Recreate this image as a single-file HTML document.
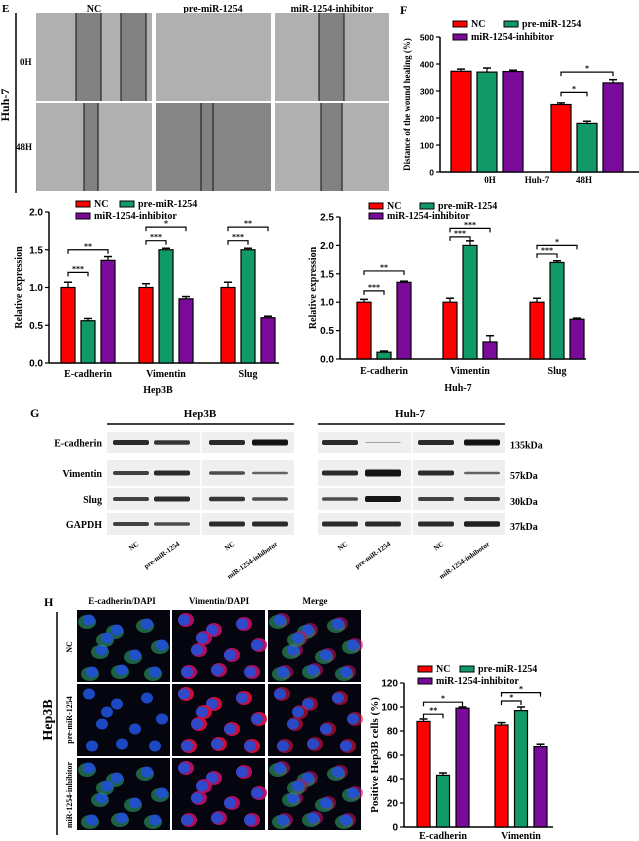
<!DOCTYPE html>
<html><head><meta charset="utf-8">
<style>
body{margin:0;background:#fff}
svg{display:block;font-family:"Liberation Serif",serif;font-weight:bold}
</style></head>
<body>
<svg id="fig" width="639" height="841" viewBox="0 0 639 841" xmlns="http://www.w3.org/2000/svg">
<rect width="639" height="841" fill="#fff"/>
<g id="static"></g>
</svg>
<script>
// ---------- chart data ----------
const groups = ["NC","pre-miR-1254","miR-1254-inhibitor"];
const colors = ["#ff0000","#119a68","#7a0a9a"];
const fCats = ["0H","48H"];
const fNC = [373,250];
const fPre = [370,180];
const fInh = [372,330];
const fErr = [8,15,5,6,8,12];
const fTicks = [0,100,200,300,400,500];

const hepCats = ["E-cadherin","Vimentin","Slug"];
const hepNC = [1.0,1.0,1.0];
const hepPre = [0.56,1.5,1.5];
const hepInh = [1.36,0.85,0.6];
const hepTicks = ["0.0","0.5","1.0","1.5","2.0"];

const huhCats = ["E-cadherin","Vimentin","Slug"];
const huhNC = [1.0,1.0,1.0];
const huhPre = [0.12,2.0,1.7];
const huhInh = [1.35,0.3,0.7];
const huhTicks = ["0.0","0.5","1.0","1.5","2.0","2.5"];

const hCats = ["E-cadherin","Vimentin"];
const hNC = [88,85];
const hPre = [43,97];
const hInh = [99,67];
const hTicks = [0,20,40,60,80,100,120];

const NS="http://www.w3.org/2000/svg";
const svg=document.getElementById('fig');
function el(tag,attrs,parent,text){const e=document.createElementNS(NS,tag);for(const k in attrs)e.setAttribute(k,attrs[k]);if(text!==undefined)e.textContent=text;(parent||svg).appendChild(e);return e;}

function txt(x,y,s,size,opts){opts=opts||{};const t=el('text',{x:x,y:y,'font-size':size,'text-anchor':opts.anchor||'start',fill:'#000'},opts.parent,s);if(opts.rot!==undefined)t.setAttribute('transform','rotate('+opts.rot+' '+x+' '+y+')');return t;}

function barChart(cfg){
  const g=el('g',{});
  
  
  const ymax=cfg.ymax;
  const y=v=>cfg.y0-(v/ymax)*(cfg.y0-cfg.ytop);
  el('line',{x1:cfg.ax,y1:cfg.ytop,x2:cfg.ax,y2:cfg.y0,stroke:'#000','stroke-width':1.5},g);
  el('line',{x1:cfg.ax,y1:cfg.y0,x2:cfg.axEnd,y2:cfg.y0,stroke:'#000','stroke-width':1.5},g);
  cfg.ticks.forEach(tk=>{const v=parseFloat(tk);const yy=y(v);
    el('line',{x1:cfg.ax-4,y1:yy,x2:cfg.ax,y2:yy,stroke:'#000','stroke-width':1.2},g);
    const t=txt(cfg.ax-6,yy+3.5,String(tk),cfg.tickSize||10,{anchor:'end',parent:g});
    
    t.setAttribute('font-family','Liberation Sans, sans-serif');
  });
  const series=[cfg.s0,cfg.s1,cfg.s2];
  cfg.cats.forEach((c,i)=>{
    series.forEach((s,j)=>{
      const x=cfg.barX[i]+j*cfg.step;
      const r=el('rect',{x:x,y:y(s[i]),width:cfg.bw,height:cfg.y0-y(s[i]),fill:colors[j],stroke:'#000','stroke-width':1.2},g);
      
      
      const e=(cfg.err?cfg.err[i*3+j]:0.05*ymax/2);
      const ey=y(s[i]+e);
      el('line',{x1:x+cfg.bw/2,y1:y(s[i]),x2:x+cfg.bw/2,y2:ey,stroke:'#000','stroke-width':1.2},g);
      el('line',{x1:x+cfg.bw/2-4,y1:ey,x2:x+cfg.bw/2+4,y2:ey,stroke:'#000','stroke-width':1.5},g);
    });
    if(cfg.catLabels!==false){
      const t=txt(cfg.barX[i]+cfg.step+cfg.bw/2,cfg.labelY,c,cfg.catSize||10,{anchor:'middle',parent:g});
      
    }
  });
  const L=cfg.leg;
  const items=[[L.x,L.y1,0],[L.x2,L.y1,1],[L.x,L.y2,2]];
  items.forEach(([lx,ly,j])=>{
    const r=el('rect',{x:lx,y:ly-6,width:14,height:6,fill:colors[j],stroke:'#000','stroke-width':1},g);
    
    const t=txt(lx+18,ly,groups[j],cfg.legSize||10,{parent:g});
    
  });
  const yt=txt(cfg.ytX,(cfg.ytop+cfg.y0)/2,cfg.ytitle,cfg.ytSize||10,{anchor:'middle',rot:-90,parent:g});
  
  (cfg.brackets||[]).forEach(b=>{
    const x1=cfg.barX[b.c]+b.a*cfg.step+cfg.bw/2, x2=cfg.barX[b.c]+b.b*cfg.step+cfg.bw/2;
    const yy=y(b.v);
    el('polyline',{points:`${x1},${yy+4} ${x1},${yy} ${x2},${yy} ${x2},${yy+4}`,fill:'none',stroke:'#000','stroke-width':1.2},g);
    txt((x1+x2)/2,yy-1,b.s,8,{anchor:'middle',parent:g});
  });
  return {g,y};
}

barChart({name:'wound-healing-chart',cats:fCats,s0:fNC,s1:fPre,s2:fInh,err:fErr,ymax:500,ax:440,axEnd:639,ytop:37,y0:172,
  ticks:fTicks,barX:[451,551],step:26,bw:20,catLabels:false,labelY:182,
  leg:{x:453,x2:504,y1:27,y2:40},ytX:410,ytitle:'Distance of the wound healing (%)',ytSize:9,tickSize:8.5,
  brackets:[{c:1,a:0,b:1,v:295,s:'*'},{c:1,a:0,b:2,v:370,s:'*'}]});
[['0H',490],['Huh-7',537],['48H',584]].forEach(([s,x])=>{const t=txt(x,183,s,9,{anchor:'middle'});});

barChart({name:'hep3b-expression-chart',cats:hepCats,s0:hepNC,s1:hepPre,s2:hepInh,ymax:2,ax:49,axEnd:279,ytop:212,y0:363,
  ticks:hepTicks,barX:[61,139,221],step:20,bw:14,labelY:377,err:[0.07,0.03,0.05,0.05,0.02,0.03,0.07,0.02,0.02],
  leg:{x:76,x2:120,y1:207,y2:219},ytX:22,ytitle:'Relative expression',
  brackets:[{c:0,a:0,b:1,v:1.2,s:'***'},{c:0,a:0,b:2,v:1.5,s:'**'},{c:1,a:0,b:1,v:1.62,s:'***'},{c:1,a:0,b:2,v:1.8,s:'*'},{c:2,a:0,b:1,v:1.62,s:'***'},{c:2,a:0,b:2,v:1.8,s:'**'}]});
txt(158,393,'Hep3B',10,{anchor:'middle'});

barChart({name:'huh7-expression-chart',cats:huhCats,s0:huhNC,s1:huhPre,s2:huhInh,ymax:2.5,ax:340,axEnd:586,ytop:217,y0:359,
  ticks:huhTicks,barX:[357,443,530],step:20,bw:14,labelY:374,err:[0.05,0.02,0.02,0.07,0.08,0.11,0.07,0.03,0.02],
  leg:{x:369,x2:420,y1:209,y2:219},ytX:316,ytitle:'Relative expression',
  brackets:[{c:0,a:0,b:1,v:1.2,s:'***'},{c:0,a:0,b:2,v:1.55,s:'**'},{c:1,a:0,b:1,v:2.15,s:'***'},{c:1,a:0,b:2,v:2.3,s:'***'},{c:2,a:0,b:1,v:1.85,s:'***'},{c:2,a:0,b:2,v:2.0,s:'*'}]});
txt(458,391,'Huh-7',10,{anchor:'middle'});

barChart({name:'positive-cells-chart',cats:hCats,s0:hNC,s1:hPre,s2:hInh,ymax:120,ax:404,axEnd:553,ytop:683,y0:827,
  ticks:hTicks,barX:[417,495],step:19.5,bw:13,labelY:839,err:[2,2,1,2,3,2],
  leg:{x:418,x2:460,y1:672,y2:684},ytX:378,ytitle:'Positive Hep3B cells (%)',ytSize:11,
  brackets:[{c:0,a:0,b:1,v:94,s:'**'},{c:0,a:0,b:2,v:104,s:'*'},{c:1,a:0,b:1,v:105,s:'*'},{c:1,a:0,b:2,v:112,s:'*'}]});

// ---------- static panels ----------
const st=document.getElementById('static');
function lbl(x,y,s,size,name,anchor,rot){const t=txt(x,y,s,size,{anchor:anchor||'start',rot:rot,parent:st});return t;}
lbl(2,12,'E',11,'panel-label-e');
lbl(400,14,'F',12,'panel-label-f');
lbl(30,417,'G',12,'panel-label-g');
lbl(44,606,'H',12,'panel-label-h');
['NC','pre-miR-1254','miR-1254-inhibitor'].forEach((s,i)=>lbl([94,213,332][i],12,s,10,'column-header','middle'));
el('line',{x1:16,y1:13,x2:16,y2:193,stroke:'#000','stroke-width':1.5},st);
lbl(9,105,'Huh-7',12,'row-group-label','middle',-90);
lbl(20,65,'0H',9,'row-label');lbl(16,150,'48H',9,'row-label');
const px=[36,156,275],py=[13,103],pw=[116,115,114];
const gaps=[[[76,101],[121,146],[319,344]],[[84,98],[201,213],[321,342]]];
py.forEach((yy,r)=>px.forEach((xx,c)=>{
  const g=el('g',{},st);
  el('rect',{x:xx,y:yy,width:pw[c],height:88,fill:r==1&&c==1?'#858585':'#b0b0b0'},g);
  const [a,b]=gaps[r][c];
  el('rect',{x:a,y:yy,width:b-a,height:88,fill:'#818181'},g);
  el('line',{x1:a,y1:yy,x2:a,y2:yy+88,stroke:'#111','stroke-width':1},g);
  el('line',{x1:b,y1:yy,x2:b,y2:yy+88,stroke:'#111','stroke-width':1},g);
}));
lbl(200,417,'Hep3B',11,'blot-header','middle');lbl(410,417,'Huh-7',11,'blot-header','middle');
el('line',{x1:107,y1:424,x2:294,y2:424,stroke:'#000','stroke-width':1.5},st);
el('line',{x1:318,y1:424,x2:505,y2:424,stroke:'#000','stroke-width':1.5},st);
const rows=[['E-cadherin',432,453,'135kDa'],['Vimentin',460,486,'57kDa'],['Slug',488,510,'30kDa'],['GAPDH',513,535,'37kDa']];
const lanes=[131,172,227,270,340,383,436,482];
const inten=[[1,.9,1,1.2,1,.15,1,1.2],[.8,1,.7,.5,1,1.4,1,.5],[.8,1,.9,.7,.7,1.2,.8,.8],[.8,.7,1,1,1,1,1,1.1]];
rows.forEach(([n,y1,y2,kd],ri)=>{
  lbl(102,(y1+y2)/2+4,n,10,'blot-row-label','end');
  lbl(510,(y1+y2)/2+6,kd,10,'molecular-weight-label');
  [[107,294],[318,505]].forEach(([a,b])=>{const r=el('rect',{x:a,y:y1,width:b-a,height:y2-y1,fill:'#efefef'},st);});
  lanes.forEach((lx,li)=>{const h=5*inten[ri][li];const o=Math.min(1,0.4+0.5*inten[ri][li]);
    el('rect',{x:lx-18,y:(y1+y2)/2-h/2,width:36,height:h,rx:2,fill:'#151515','fill-opacity':o},st);});
});
el('line',{x1:201,y1:430,x2:201,y2:537,stroke:'#fff','stroke-width':1.5},st);
el('line',{x1:412,y1:430,x2:412,y2:537,stroke:'#fff','stroke-width':1.5},st);
['NC','pre-miR-1254','NC','miR-1254-inhibotor','NC','pre-miR-1254','NC','miR-1254-inhibotor'].forEach((s,i)=>{
  const x=lanes[i]+8,y=545;const t=txt(x,y,s,7,{anchor:'end',rot:-35,parent:st});
});
['E-cadherin/DAPI','Vimentin/DAPI','Merge'].forEach((s,i)=>lbl([122,219,315][i],604,s,9,'column-header','middle'));
el('line',{x1:57,y1:612,x2:57,y2:835,stroke:'#000','stroke-width':1.5},st);
lbl(52,720,'Hep3B',14,'row-group-label','middle',-90);
lbl(72,647,'NC',8,'row-label','middle',-90);lbl(72,720,'pre-miR-1254',8,'row-label','middle',-90);lbl(72,795,'miR-1254-inhibitor',8,'row-label','middle',-90);
const ix=[77,172,268],iy=[610,684,758];
const cells=[[12,10],[40,20],[70,14],[25,40],[58,45],[85,35],[15,62],[45,60],[78,62],[30,28]];
iy.forEach((yy,r)=>ix.forEach((xx,c)=>{
  const g=el('g',{},st);
  el('rect',{x:xx,y:yy,width:93,height:72,fill:'#050510'},g);
  cells.forEach(([cx,cy],k)=>{
    if(c!==0) el('ellipse',{cx:xx+cx+2,cy:yy+cy,rx:8,ry:7,fill:r==1?'#e01040':'#c0106a',opacity:c==1?.9:.6},g);
    if(c!==1 && r!=1) el('ellipse',{cx:xx+cx-2,cy:yy+cy+2,rx:9,ry:7,fill:'#2a8a5a',opacity:.7},g);
    el('ellipse',{cx:xx+cx,cy:yy+cy,rx:6,ry:5.5,fill:'#2050d8',opacity:.9},g);
  });
}));
</script>
</body></html>
